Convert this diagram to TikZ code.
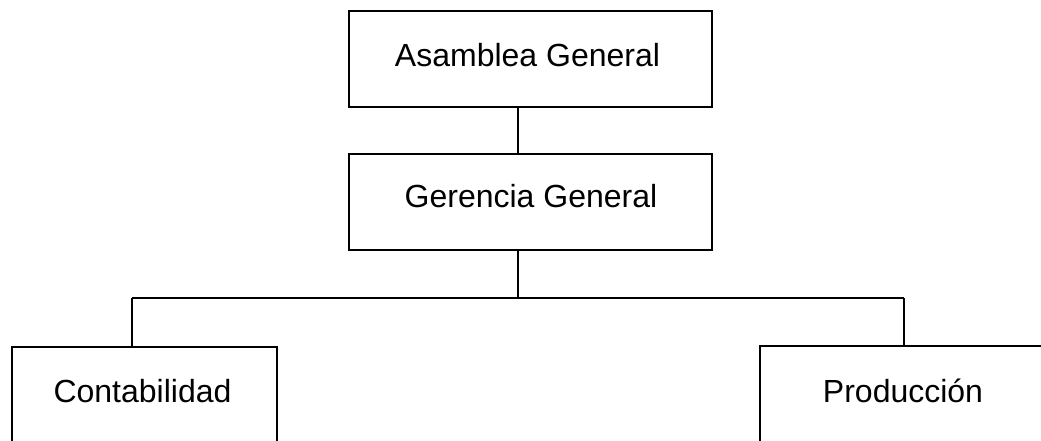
\documentclass[tikz,border=0pt]{standalone}
\usepackage{fontspec}
\setmainfont{Liberation Sans}
\begin{document}
\begin{tikzpicture}[x=1pt,y=-1pt,
  box/.style={draw=black,line width=1.5pt,rectangle,inner sep=0pt,minimum width=#1,minimum height=96pt},
  lbl/.style={anchor=base,inner sep=0pt,font=\fontsize{32}{38}\selectfont},
  conn/.style={draw=black,line width=1.5pt}]
\useasboundingbox (0,0) rectangle (1041,440);
\clip (0,0) rectangle (1041,440);
\fill[white] (0,0) rectangle (1041,440);
% boxes
\node[box=363pt] (asam) at (530.5,59) {};
\node[box=363pt] (ger) at (530.5,202) {};
\node[box=265pt,minimum height=130pt] (cont) at (144.5,412) {};
\node[box=300pt,minimum height=130pt] (prod) at (910,411) {};
% labels
\node[lbl] (tasam) at (527.5,66) {Asamblea General};
\node[lbl] (tger) at (531,207) {Gerencia General};
\node[lbl] (tcont) at (142.5,402) {Contabilidad};
\node[lbl] (tprod) at (903,402) {Producción};
% connectors
\coordinate (j) at (518,298);
\coordinate (jl) at (132,298);
\coordinate (jr) at (904,298);
\draw[conn] (asam.south -| j) -- (ger.north -| j);
\draw[conn] (ger.south -| j) -- (j);
\draw[conn] (jl) -- (jr);
\draw[conn] (jl) -- (jl |- cont.north);
\draw[conn] (jr) -- (jr |- prod.north);
\end{tikzpicture}
\end{document}
